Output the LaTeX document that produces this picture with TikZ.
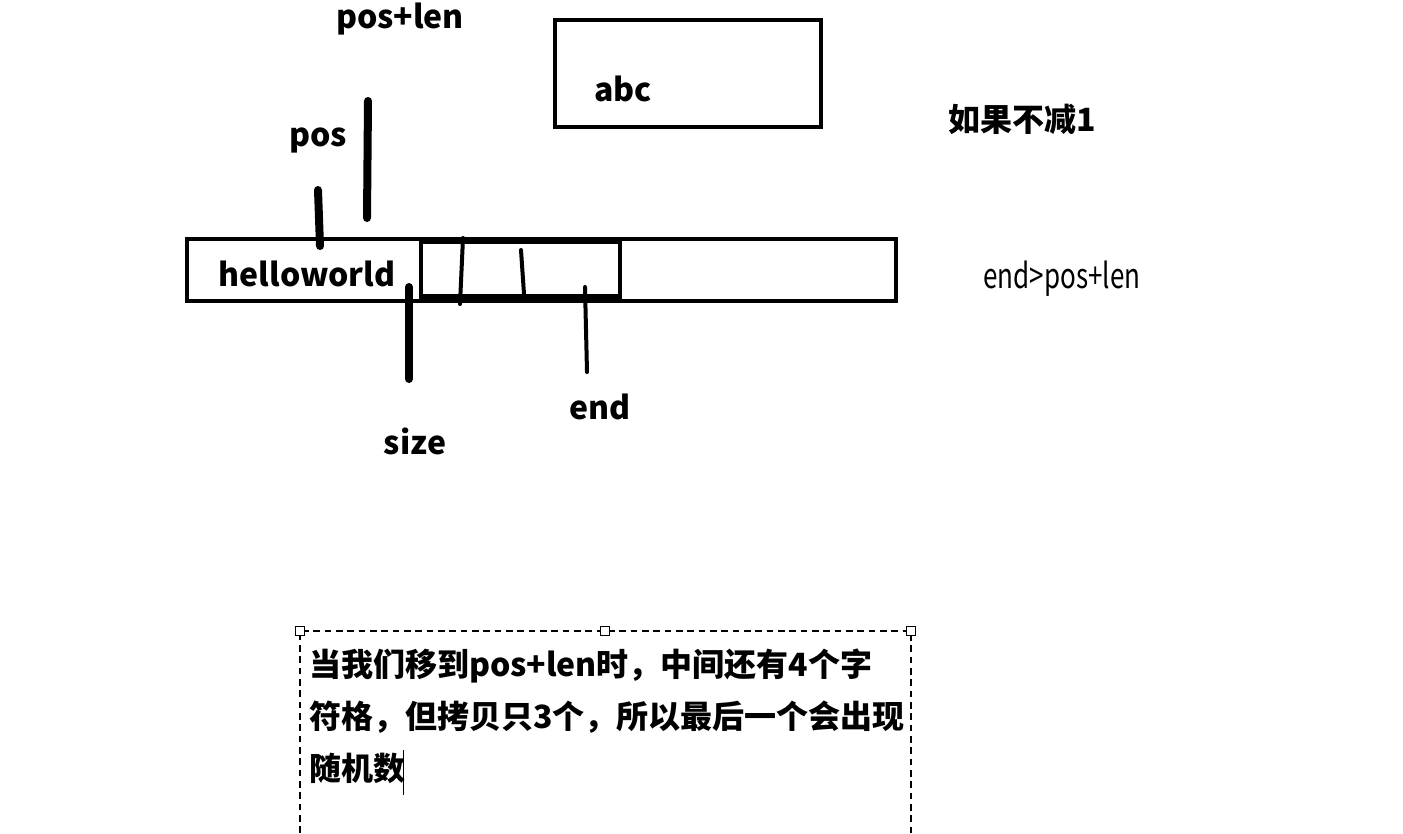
\documentclass[tikz,border=0pt]{standalone}
\usepackage{fontspec}
\setmainfont{Noto Sans CJK SC}
\usepackage{tikz}
\usetikzlibrary{calc}

\tikzset{
  lbl/.style={font=\fontsize{24}{28}\selectfont\bfseries, inner sep=0pt},
  marker/.style={line width=6pt, line cap=round},
  tick/.style={line width=3pt, line cap=round},
  handle/.style={draw, fill=white, line width=1.1pt, minimum size=6.5pt, inner sep=0pt}
}

\begin{document}
\begin{tikzpicture}
[line width=3pt, x=0.75pt, y=-0.75pt]
\useasboundingbox (0,0) rectangle (1403,833);

\draw[line width=2.5pt] (555,20) rectangle (821,127); %abc box
\node[lbl] (abc) at (623,89) {abc};

\node[lbl] (poslen) at (400,19) {pos+len};
\node[lbl] (pos) at (318,140) {pos};

\draw (187,239) rectangle (896,301); %string
\draw (421,242) rectangle (620,297); %copied part
\draw[line width=4pt] (421,297) -- (620,297);
\node[lbl] (hello) at (307,274) {helloworld};

\coordinate (posA) at (318,190);
\coordinate (posB) at (320,246);
\draw[marker] (posA) -- (posB);
\coordinate (plA) at (368,101);
\coordinate (plB) at (367,218);
\draw[marker] (plA) -- (plB);

\coordinate (t1A) at (463,238);
\coordinate (t1B) at (460,304);
\draw[tick] (t1A) -- (t1B);
\coordinate (t2A) at (521,250);
\coordinate (t2B) at (524,294);
\draw[tick] (t2A) -- (t2B);

\coordinate (sizeA) at (409,287);
\coordinate (sizeB) at (409,379);
\draw[marker] (sizeA) -- (sizeB);
\node[lbl] (size) at (415,441) {size};

\coordinate (endA) at (585,287);
\coordinate (endB) at (587,372);
\draw[tick] (endA) -- (endB);
\node[lbl] (end) at (600,407) {end};

\node[lbl] (nosub) at (1022,119) {如果不减1};
\node[font=\fontsize{26}{30}\selectfont, inner sep=0pt] (cond) at (1062,279) {\scalebox{0.75}[1]{end>pos+len}};

% text box
\draw[line width=1.1pt, dash pattern=on 5pt off 3.5pt] (300,833) -- (300,631) -- (911,631) -- (911,833);
\node[handle] (h1) at (300,631) {};
\node[handle] (h2) at (605,631) {};
\node[handle] (h3) at (911,631) {};
\node[lbl, anchor=north west, align=left, font=\fontsize{24}{39}\selectfont\bfseries] (note) at (307,647)
  {当我们移到pos+len时，中间还有4个字\\符格，但拷贝只3个，所以最后一个会出现\\随机数};
\draw[line width=0.6pt] (403,750) -- (403,795);
\end{tikzpicture}
\end{document}
